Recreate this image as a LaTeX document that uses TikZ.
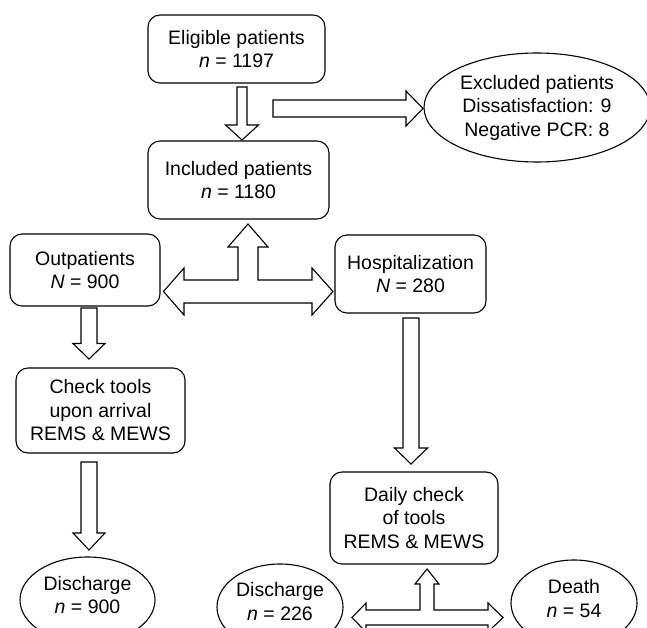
\documentclass[tikz,border=0pt]{standalone}
\usepackage{fontspec}
\setmainfont{Liberation Sans}
\usetikzlibrary{shapes.geometric}
\newcommand\diagfont{\fontsize{19.5}{23.5}\selectfont}
\tikzset{
  box/.style={draw, line width=1.1pt, rounded corners=12pt, align=center, inner sep=0pt, font=\diagfont},
  oval/.style={draw, ellipse, line width=1.1pt, align=center, inner sep=0pt, font=\diagfont},
  ovaltext/.style={align=center, font=\diagfont, inner sep=0pt},
  blk/.style={draw, fill=white, line width=1.1pt, line join=miter},
}
\begin{document}
\begin{tikzpicture}[x=1pt, y=-1pt]
\useasboundingbox (0,0) rectangle (647,628);
\clip (0,0) rectangle (647,628);
% nodes
\node[box, minimum width=177pt, minimum height=68pt] (elig) at (236.5,49) {Eligible patients\\\textit{n} = 1197};
\node[box, minimum width=181pt, minimum height=78pt] (incl) at (238.5,180) {Included patients\\\textit{n} = 1180};
\node[oval, minimum width=226pt, minimum height=109pt] (excl) at (537,107.5) {Excluded patients\\Dissatisfaction: 9\\Negative PCR: 8};
\node[box, minimum width=150pt, minimum height=72pt] (outp) at (85,270) {Outpatients\\\textit{N} = 900};
\node[box, minimum width=151pt, minimum height=78pt] (hosp) at (410.5,274) {Hospitalization\\\textit{N} = 280};
\node[box, minimum width=169pt, minimum height=85pt] (check) at (100.5,410.5) {Check tools\\upon arrival\\REMS \& MEWS};
\node[box, minimum width=168pt, minimum height=92pt] (daily) at (414,518) {Daily check\\of tools\\REMS \& MEWS};
\node[oval, minimum width=135pt, minimum height=86pt,
  label={[ovaltext, yshift=5pt]center:Discharge\\\textit{n} = 900}] (d900) at (87.5,600) {};
\node[oval, minimum width=126pt, minimum height=86pt,
  label={[ovaltext, yshift=5.5pt]center:Discharge\\\textit{n} = 226}] (d226) at (280,607) {};
\node[oval, minimum width=126pt, minimum height=86pt,
  label={[ovaltext, yshift=4.5pt]center:Death\\\textit{n} = 54}] (death) at (574,603) {};
% block arrows
% eligible -> included
\draw[blk] (237,87) -- (247,87) -- (247,125) -- (258.5,125) -- (242,140) -- (225.5,125) -- (237,125) -- cycle;
% -> excluded
\draw[blk] (273,100) -- (406,100) -- (406,91) -- (423,108.5) -- (406,126) -- (406,117) -- (273,117) -- cycle;
% included <- split -> outpatients / hospitalization
\draw[blk] (248,224) -- (268,247) -- (258,247) -- (258,280) -- (312,280) -- (312,268) -- (333,291.5)
  -- (312,315) -- (312,303) -- (184,303) -- (184,315) -- (163.5,291.5) -- (184,268) -- (184,280)
  -- (238,280) -- (238,247) -- (228,247) -- cycle;
% outpatients -> check tools
\draw[blk] (81,308) -- (97,308) -- (97,343.5) -- (105,343.5) -- (89,359) -- (73,343.5) -- (81,343.5) -- cycle;
% check tools -> discharge
\draw[blk] (81,462) -- (97,462) -- (97,533) -- (105,533) -- (89,550) -- (73,533) -- (81,533) -- cycle;
% hospitalization -> daily check
\draw[blk] (403,318) -- (419,318) -- (419,448) -- (427.5,448) -- (411,464) -- (394.5,448) -- (403,448) -- cycle;
% daily check <- split -> discharge / death
\draw[blk] (427,569) -- (439,584) -- (434,584) -- (434,610) -- (488,610) -- (488,603) -- (503,617.5)
  -- (488,632) -- (488,625) -- (366,625) -- (366,632) -- (352,617.5) -- (366,603) -- (366,610)
  -- (420,610) -- (420,584) -- (415,584) -- cycle;
\end{tikzpicture}
\end{document}
